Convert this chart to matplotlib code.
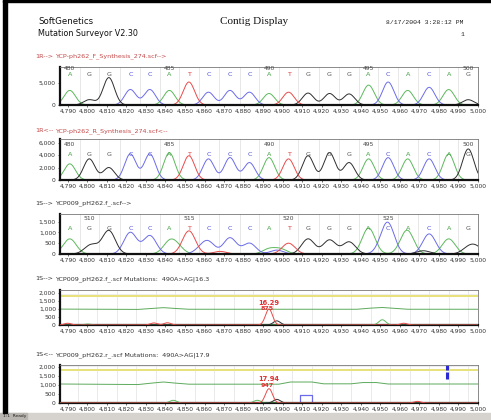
import numpy as np
import matplotlib
matplotlib.use("Agg")
import matplotlib.pyplot as plt
from matplotlib.ticker import FuncFormatter, FixedLocator
import matplotlib.transforms as mtrans
from matplotlib.patches import Rectangle

W, H = 491, 420

# ---------------- data ----------------
bases = list("AGGCCATCCCATGGGACACAG")
base_pos = [4791, 4801, 4811, 4822, 4832, 4842, 4852, 4862, 4873, 4883, 4893,
            4903, 4913, 4924, 4934, 4944, 4954, 4964, 4975, 4985, 4995]
x_ticks = list(range(4790, 5001, 10))

# panel 1 : forward reference
p1_heights = [3300, 1200, 6200, 3500, 3500, 3300, 5200, 2900, 3300, 2900, 2600,
              2900, 2700, 2600, 2500, 4500, 5200, 3300, 4000, 3500, 1200]
p1_numbers = {0: "480", 5: "485", 10: "490", 15: "495", 20: "500"}
# panel 2 : reverse reference
p2_heights = [2600, 3400, 2000, 4200, 4200, 4400, 3900, 3400, 3600, 2800, 3600,
              3400, 3900, 4400, 2800, 3400, 3600, 3400, 3400, 4200, 5000]
p2_numbers = {0: "480", 5: "485", 10: "490", 15: "495", 20: "500"}
# panel 3 : sample forward
p3_heights = [700, 220, 1080, 1000, 850, 520, 1070, 520, 750, 500, 230,
              500, 700, 650, 560, 1200, 1300, 930, 930, 700, 250]
p3_numbers = {1: "510", 6: "515", 11: "520", 16: "525"}
p3_extra_pos = [4803, 4846, 4858, 4868, 4897, 4899, 4951, 4962, 4972, 4999]
p3_extra_base = ["G", "A", "C", "T", "C", "A", "C", "A", "G", "G"]
p3_extra_h = [230, 300, 200, 120, 180, 220, 250, 200, 150, 300]

# panel 4 : mutation trace forward
p4_green_x = [4786, 4826, 4833, 4839, 4845, 4852, 4938, 4945, 4951, 4957, 4964, 5000]
p4_green_y = [1000, 980, 1040, 1090, 1040, 990, 990, 1060, 1100, 1050, 990, 990]
p4_yellow = 1800
p4_peak_pos = [4790, 4800, 4834, 4841, 4893, 4897, 4951, 4962]
p4_peak_base = ["T", "A", "T", "T", "T", "G", "A", "T"]
p4_peak_h = [110, 60, 130, 140, 1000, 260, 330, 110]
p4_score, p4_height, p4_label_x = "16.29", "875", 4893

# panel 5 : mutation trace reverse
p5_green_x = [4786, 4826, 4833, 4839, 4845, 4852, 4898, 4904, 4915, 4921, 4935, 4941, 4948, 4954, 5000]
p5_green_y = [1050, 1020, 1100, 1160, 1100, 1040, 1040, 1160, 1160, 1060, 1060, 1130, 1130, 1050, 1050]
p5_yellow = 1850
p5_peak_pos = [4844, 4887, 4893, 4897, 4969]
p5_peak_base = ["A", "A", "T", "G", "T"]
p5_peak_h = [150, 150, 790, 200, 90]
p5_blue_box = (4909, 4915, 450)
p5_marks = [(1830, 2080), (1350, 1720)]
p5_mark_x = 4984
p5_score, p5_height, p5_label_x = "17.94", "947", 4893

# ---------------- styles ----------------
trace_col = {"A": "#5cb85c", "G": "#2e2e2e", "C": "#6b6bea", "T": "#ea4a4a"}
letter_col = {"A": "#3f9f3f", "G": "#555555", "C": "#5050d8", "T": "#e03c3c"}

fig = plt.figure(figsize=(W / 100, H / 100), dpi=100)
fig.patch.set_facecolor("white")
plt.rcParams["font.family"] = ["DejaVu Sans"]


def rect(x0, y0, x1, y1):
    return [x0 / W, 1 - y1 / H, (x1 - x0) / W, (y1 - y0) / H]


def ftxt(x, y, s, **kw):
    fig.text(x / W, 1 - y / H, s, **kw)


fmt = FuncFormatter(lambda v, p: f"{int(v):,}")
xs = np.linspace(4786, 5000, 1500)


def gauss_sum(pos, hts, sig):
    y = np.zeros_like(xs)
    for p, h in zip(pos, hts):
        y += h * np.exp(-(xs - p) ** 2 / (2 * sig ** 2))
    return y


def make_axes(top, bottom, ymax, yticks):
    ax = fig.add_axes(rect(60, top, 478, bottom))
    ax.set_xlim(4786, 5000)
    ax.set_ylim(0, ymax)
    ax.xaxis.set_major_locator(FixedLocator(x_ticks))
    ax.yaxis.set_major_locator(FixedLocator(yticks))
    ax.xaxis.set_major_formatter(fmt)
    ax.yaxis.set_major_formatter(fmt)
    ax.tick_params(axis="both", labelsize=4.3, length=1.5, width=0.5, pad=1.5,
                   colors="#333333")
    for s in ["left", "bottom"]:
        ax.spines[s].set_linewidth(1.6)
        ax.spines[s].set_color("#111111")
    for s in ["top", "right"]:
        ax.spines[s].set_linewidth(0.6)
        ax.spines[s].set_color("#777777")
    return ax


def chrom_panel(ax, heights, numbers, sig, y_letter, y_num, extra=None):
    mids = [(a + b) / 2 for a, b in zip(base_pos[:-1], base_pos[1:])]
    for m in mids:
        ax.axvline(m, color="#dddddd", lw=0.5, zorder=0)
    for b in "ACGT":
        pos = [p for p, bb in zip(base_pos, bases) if bb == b]
        hts = [h for h, bb in zip(heights, bases) if bb == b]
        if extra is not None:
            pos += [p for p, bb in zip(extra[0], extra[1]) if bb == b]
            hts += [h for h, bb in zip(extra[2], extra[1]) if bb == b]
        ax.plot(xs, gauss_sum(pos, hts, sig), color=trace_col[b], lw=0.7)
    tr = mtrans.blended_transform_factory(ax.transData, ax.transAxes)
    for i, (p, b) in enumerate(zip(base_pos, bases)):
        ax.text(p, y_letter, b, transform=tr, ha="center", va="center",
                fontsize=4.6, color=letter_col[b])
        if i in numbers:
            ax.text(p, y_num, numbers[i], transform=tr, ha="center", va="center",
                    fontsize=4.3, color="#444444")


def mut_panel(ax, gx, gy, yellow, ppos, pbase, ph, score, height, lx):
    for t in x_ticks:
        ax.axvline(t + 5, color="#e2e2e2", lw=0.5, zorder=0)
    ax.axhline(yellow, color="#e8e27a", lw=1.4, zorder=1)
    ax.axhline(yellow + 170, color="#e9e9e9", lw=0.5, zorder=1)
    ax.plot(gx, gy, color="#5caa5c", lw=0.7, zorder=2)
    for b in "ACGT":
        pos = [p for p, bb in zip(ppos, pbase) if bb == b]
        hts = [h for h, bb in zip(ph, pbase) if bb == b]
        if pos:
            ax.plot(xs, gauss_sum(pos, hts, 1.8), color=trace_col[b], lw=0.7, zorder=3)
    ymax = ax.get_ylim()[1]
    ax.text(lx, 0.62 * ymax, score, ha="center", va="center", fontsize=4.8,
            color="#e03030", fontweight="bold")
    ax.text(lx - 1, 0.47 * ymax, height, ha="center", va="center", fontsize=4.6,
            color="#e03030", fontweight="bold")


# header
ftxt(38, 22, "SoftGenetics", fontsize=6.2, va="center", ha="left", color="#111111")
ftxt(38, 34, "Mutation Surveyor V2.30", fontsize=5.8, va="center", ha="left", color="#111111")
ftxt(254, 22, "Contig Display", fontsize=8, va="center", ha="center",
     family=["Liberation Serif", "DejaVu Serif"], color="#111111")
ftxt(463, 22, "8/17/2004 3:28:12 PM", fontsize=4.6, va="center", ha="right",
     family=["Liberation Mono", "DejaVu Sans Mono"], color="#222222")
ftxt(462, 34, "1", fontsize=4.6, va="center", ha="center",
     family=["Liberation Mono", "DejaVu Sans Mono"], color="#222222")

# panel titles
titles = [
    (56, "1R-->", "YCP-ph262_F_Synthesis_274.scf-->", "#c44a4a"),
    (131, "1R<--", "YCP-ph262_R_Synthesis_274.scf<--", "#c44a4a"),
    (203, "1S-->", "YCP009_pH262.f_.scf-->", "#333333"),
    (279, "1S-->", "YCP009_pH262.f_.scf Mutations:  490A>AG|16.3", "#333333"),
    (355, "1S<--", "YCP009_pH262.r_.scf Mutations:  490A>AG|17.9", "#333333"),
]
for y, a, b, c in titles:
    ftxt(35, y, a, fontsize=4.6, va="center", ha="left", color=c)
    ftxt(55, y, b, fontsize=4.6, va="center", ha="left", color=c)

ax1 = make_axes(67, 105, 8600, [0, 5000])
chrom_panel(ax1, p1_heights, p1_numbers, 2.9, 0.79, 0.95)

ax2 = make_axes(139, 180, 6600, [0, 2000, 4000, 6000])
chrom_panel(ax2, p2_heights, p2_numbers, 2.9, 0.61, 0.87)

ax3 = make_axes(214, 254, 1850, [0, 500, 1000, 1500])
chrom_panel(ax3, p3_heights, p3_numbers, 3.3, 0.65, 0.9,
            extra=(p3_extra_pos, p3_extra_base, p3_extra_h))

ax4 = make_axes(290, 325, 2200, [0, 500, 1000, 1500, 2000])
mut_panel(ax4, p4_green_x, p4_green_y, p4_yellow, p4_peak_pos, p4_peak_base,
          p4_peak_h, p4_score, p4_height, p4_label_x)

ax5 = make_axes(365, 403, 2100, [0, 500, 1000, 1500, 2000])
mut_panel(ax5, p5_green_x, p5_green_y, p5_yellow, p5_peak_pos, p5_peak_base,
          p5_peak_h, p5_score, p5_height, p5_label_x)
bx0, bx1, bh = p5_blue_box
ax5.plot([bx0, bx0, bx1, bx1], [0, bh, bh, 0], color=trace_col["C"], lw=0.9,
         solid_joinstyle="round")
for lo, hi in p5_marks:
    ax5.plot([p5_mark_x, p5_mark_x], [lo, hi], color="#2a2ad0", lw=2.2,
             solid_capstyle="butt", clip_on=False)

# window frame & status bar
ov = fig.add_axes([0, 0, 1, 1], zorder=10)
ov.set_xlim(0, W)
ov.set_ylim(H, 0)
ov.axis("off")
ov.patch.set_alpha(0)
ov.add_patch(Rectangle((0, 413), W, 7, color="#d6d3ce", zorder=1))
ov.add_patch(Rectangle((0, 413), 27, 7, color="#b8b5b0", zorder=2))
ov.text(3, 416.5, "1:1  Ready", fontsize=3.2, va="center", ha="left", color="#222222")
ov.add_patch(Rectangle((3, 0), 4, 413, color="black", zorder=3))
ov.add_patch(Rectangle((3, 0), W, 2, color="black", zorder=3))

fig.savefig("out.png", dpi=100)
